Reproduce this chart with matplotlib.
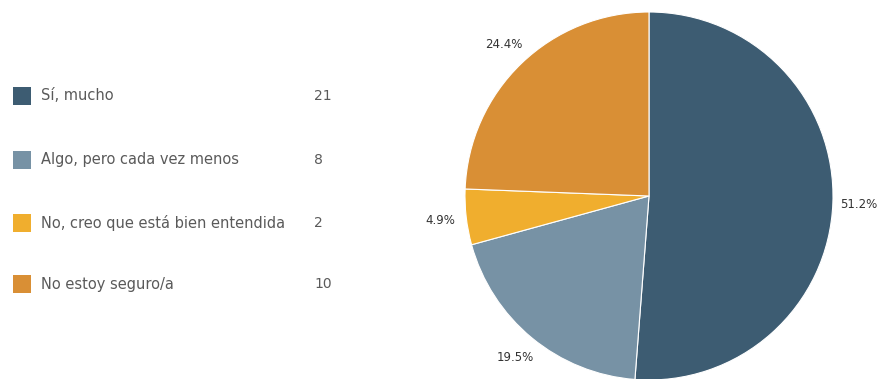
import matplotlib.pyplot as plt
from matplotlib.patches import Rectangle

labels = ["Sí, mucho", "Algo, pero cada vez menos",
          "No, creo que está bien entendida", "No estoy seguro/a"]
counts = [21, 8, 2, 10]
colors = ["#3d5c72", "#7792a5", "#f0ae2e", "#d98f35"]

W, H = 882, 379
fig = plt.figure(figsize=(W / 100, H / 100), dpi=100)

# pie on the right, centre (649, 196) px, radius 184 px
cx, cy, r = 649, 196, 184
ax = fig.add_axes([(cx - r) / W, (H - cy - r) / H, 2 * r / W, 2 * r / H])
wedges, texts, pcts = ax.pie(
    counts, colors=colors, startangle=90, counterclock=False,
    autopct="%1.1f%%", pctdistance=1.14,
    wedgeprops=dict(edgecolor="white", linewidth=0.8),
    textprops=dict(fontsize=8.5, color="#333333"))
for t in pcts:
    t.set_clip_on(False)
ax.set_xlim(-1, 1)
ax.set_ylim(-1, 1)
ax.set_aspect("equal")

# legend with counts on the left
rows_y = [96, 160, 223, 284]
for lab, n, col, y in zip(labels, counts, colors, rows_y):
    fig.patches.append(Rectangle((13 / W, (H - y - 9) / H), 18 / W, 18 / H,
                                 transform=fig.transFigure, facecolor=col,
                                 edgecolor="none"))
    fig.text(41 / W, (H - y) / H, lab, fontsize=10.5, color="#5a5a5a",
             va="center", ha="left")
    fig.text(314 / W, (H - y) / H, str(n), fontsize=10, color="#5a5a5a",
             va="center", ha="left")

fig.savefig("out.png", dpi=100)
